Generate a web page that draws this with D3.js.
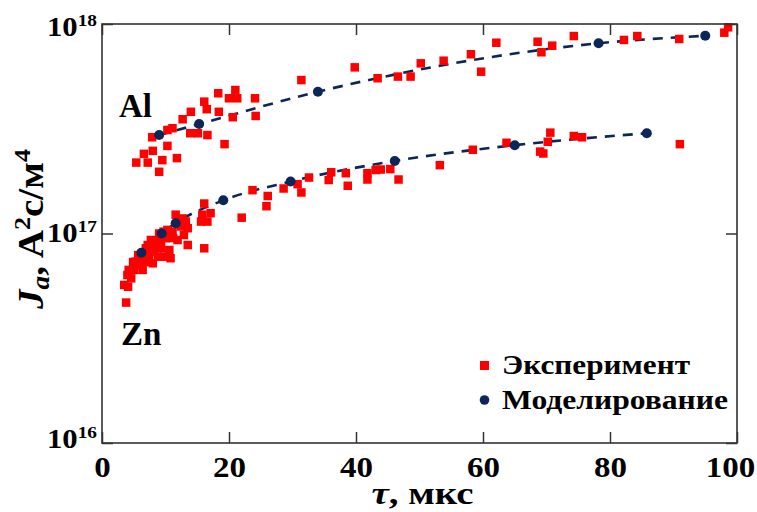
<!DOCTYPE html>
<html><head><meta charset="utf-8">
<script src="https://cdn.jsdelivr.net/npm/d3@7"></script>
<style>body{margin:0;background:#fff}svg{display:block}</style>
</head><body><svg id="c" width="757" height="512"></svg>
<script>
const xTicks=[0,20,40,60,80,100];
const yTicks=[1e16,1e17,1e18];
const yTickExp=["16","17","18"];
// Al experiment [tau, Ja]
const alExpTau=[5.4,7.2,6.6,8.0,9.0,9.5,10.3,11.8,7.9,10.3,11.1,12.7,14.0,13.9,15.1,16.6,16.1,16.5,18.3,18.4,19.3,20.6,20.0,21.0,21.3,24.1,24.2,31.4,39.8,43.4,46.6,48.6,50.2,53.8,58.1,59.7,62.1,68.6,69.2,70.9,74.3,82.2,84.3,90.9,98.0,98.6];
const alExpJ=[2.18e17,2.18e17,2.40e17,2.48e17,1.97e17,2.24e17,2.62e17,2.29e17,2.88e17,3.12e17,3.18e17,3.51e17,3.81e17,3.01e17,3.01e17,2.95e17,4.26e17,3.92e17,4.67e17,3.81e17,2.67e17,3.59e17,4.42e17,4.84e17,4.42e17,4.42e17,3.64e17,5.40e17,6.21e17,5.51e17,5.61e17,5.61e17,6.49e17,6.68e17,7.17e17,5.92e17,8.14e17,8.23e17,7.33e17,7.88e17,8.76e17,8.39e17,8.76e17,8.48e17,9.09e17,9.64e17];
// Zn experiment
const znExpTau=[3.8,3.5,4.1,4.0,4.6,5.1,5.3,5.9,6.4,6.7,6.9,7.4,8.0,8.2,8.5,8.8,9.3,9.8,9.0,10.1,10.6,10.8,10.3,11.1,11.6,11.9,12.4,12.7,13.2,13.5,13.5,16.1,15.8,16.6,17.1,16.1,15.6,4.2,4.9,5.7,6.1,7.2,7.7,8.2,9.3,9.7,11.2,12.1,12.9,6.9,8.8,
22.0,23.7,26.1,25.9,28.6,30.8,31.4,32.6,35.7,36.1,38.4,38.7,41.8,41.8,43.1,43.9,45.4,46.7,53.2,58.4,63.7,69.0,69.5,70.2,70.6,74.3,75.6,91.0];
const znExpJ=[4.68e16,5.68e16,5.57e16,6.34e16,6.11e16,6.70e16,7.33e16,7.08e16,6.70e16,7.62e16,8.50e16,7.89e16,7.21e16,8.19e16,9.14e16,7.75e16,8.50e16,7.75e16,1.00e17,9.49e16,8.34e16,7.62e16,1.04e17,1.02e17,1.23e17,9.31e16,1.08e17,1.18e17,1.14e17,1.06e17,8.81e16,1.39e17,1.23e17,1.14e17,1.25e17,8.50e16,1.14e17,6.70e16,7.31e16,7.89e16,7.64e16,8.81e16,9.31e16,8.81e16,9.31e16,1.02e17,9.52e16,1.14e17,9.84e16,7.31e16,8.53e16,
1.19e17,1.61e17,1.51e17,1.35e17,1.64e17,1.72e17,1.57e17,1.85e17,1.80e17,1.96e17,1.94e17,1.69e17,1.94e17,1.81e17,2.01e17,2.02e17,2.03e17,1.81e17,2.12e17,2.51e17,2.71e17,2.46e17,2.41e17,2.74e17,3.03e17,2.92e17,2.88e17,2.67e17];
// Modelling
const alModTau=[9.0,15.3,34.0,78.2,95.0];
const alModJ=[2.95e17,3.33e17,4.75e17,8.09e17,8.79e17];
const znModTau=[6.2,9.4,11.6,19.1,29.7,46.1,65.0,85.8];
const znModJ=[8.09e16,1.00e17,1.12e17,1.44e17,1.77e17,2.22e17,2.64e17,3.01e17];
const legendLabels=["Эксперимент","Моделирование"];

const svg=d3.select("#c");
const L=102,R=737,T=24,B=443;
const x=d3.scaleLinear().domain([0,100]).range([L,R]);
const y=d3.scaleLog().domain([1e16,1e18]).range([B,T]);
const RED="#ff0000",NAVY="#0c2658";
const serif=s=>s.style("font-family","'Liberation Serif'").style("font-weight","bold").attr("fill","#000");

const zip=(a,b)=>a.map((v,i)=>[v,b[i]]);
const line=d3.line().x(d=>x(d[0])).y(d=>y(d[1])).curve(d3.curveMonotoneX);

// dashed curves
[zip(alModTau,alModJ),zip(znModTau,znModJ)].forEach(p=>{
  svg.append("path").attr("d",line(p)).attr("fill","none").attr("stroke",NAVY)
    .attr("stroke-width",2.6).attr("stroke-dasharray","10,8");
});
// experiment squares
const sq=8.5;
svg.append("g").selectAll("rect").data(zip(alExpTau,alExpJ).concat(zip(znExpTau,znExpJ))).join("rect")
  .attr("x",d=>x(d[0])-sq/2).attr("y",d=>y(d[1])-sq/2).attr("width",sq).attr("height",sq).attr("fill",RED);
// model circles
svg.append("g").selectAll("circle").data(zip(alModTau,alModJ).concat(zip(znModTau,znModJ))).join("circle")
  .attr("cx",d=>x(d[0])).attr("cy",d=>y(d[1])).attr("r",5).attr("fill",NAVY);

// frame
svg.append("rect").attr("x",L).attr("y",T).attr("width",R-L).attr("height",B-T)
  .attr("fill","none").attr("stroke","#333").attr("stroke-width",1.6);

// axes
const xb=svg.append("g").attr("transform",`translate(0,${B})`)
  .call(d3.axisBottom(x).tickValues(xTicks).tickSizeInner(-11).tickSizeOuter(0).tickPadding(14));
const xt=svg.append("g").attr("transform",`translate(0,${T})`)
  .call(d3.axisTop(x).tickValues(xTicks).tickSizeInner(-11).tickSizeOuter(0).tickFormat(""));
const yl=svg.append("g").attr("transform",`translate(${L},0)`)
  .call(d3.axisLeft(y).tickValues(yTicks).tickSizeInner(-11).tickSizeOuter(0).tickFormat(""));
const yr=svg.append("g").attr("transform",`translate(${R},0)`)
  .call(d3.axisRight(y).tickValues(yTicks).tickSizeInner(-11).tickSizeOuter(0).tickFormat(""));
[xb,xt,yl,yr].forEach(g=>{g.attr("font-family",null).attr("font-size",null);g.select(".domain").remove();g.selectAll("line").attr("stroke","#333").attr("stroke-width",1.5);});
xb.selectAll("text").call(serif).attr("font-size",29).attr("dy","0.7em")
  .attr("textLength",function(){return this.textContent.length*16.5;}).attr("lengthAdjust","spacingAndGlyphs")
  .attr("x",d=>d===100?-7:0);

// y tick labels 10^n
yTicks.forEach((v,i)=>{
  const py=y(v);
  const t=svg.append("text").attr("x",97).attr("y",py+12-(py-T)/(B-T)*7).attr("text-anchor","end").call(serif)
    .attr("textLength",50).attr("lengthAdjust","spacingAndGlyphs");
  t.append("tspan").attr("font-size",27).text("10");
  t.append("tspan").attr("font-size",17).attr("dy",-10).text(yTickExp[i]);
});

// axis titles
const xl=svg.append("text").attr("x",(L+R)/2+3).attr("y",504).attr("text-anchor","middle").attr("font-size",32).call(serif)
  .attr("textLength",102).attr("lengthAdjust","spacingAndGlyphs");
xl.append("tspan").style("font-style","italic").text("τ");
xl.append("tspan").text(", мкс");

const ylab=svg.append("text").attr("transform",`translate(43,229) rotate(-90)`).attr("text-anchor","middle").attr("font-size",36).call(serif)
  .attr("textLength",160).attr("lengthAdjust","spacingAndGlyphs");
ylab.append("tspan").style("font-style","italic").text("J");
ylab.append("tspan").style("font-style","italic").attr("font-size",25).attr("dy",6).text("a");
ylab.append("tspan").attr("dy",-6).text(", A");
ylab.append("tspan").attr("font-size",24).attr("dy",-13).text("2");
ylab.append("tspan").attr("dy",13).text("с/м");
ylab.append("tspan").attr("font-size",24).attr("dy",-13).text("4");

// annotations
svg.append("text").attr("x",119).attr("y",117).attr("font-size",33).call(serif).text("Al");
svg.append("text").attr("x",121).attr("y",345).attr("font-size",33).call(serif).text("Zn");

// legend
svg.append("rect").attr("x",480).attr("y",361).attr("width",9).attr("height",9).attr("fill",RED);
svg.append("circle").attr("cx",484.5).attr("cy",400).attr("r",4.8).attr("fill",NAVY);
svg.append("text").attr("x",502).attr("y",374).attr("font-size",28).call(serif)
  .attr("textLength",188).attr("lengthAdjust","spacingAndGlyphs").text(legendLabels[0]);
svg.append("text").attr("x",502).attr("y",409).attr("font-size",28).call(serif)
  .attr("textLength",226).attr("lengthAdjust","spacingAndGlyphs").text(legendLabels[1]);
</script></body></html>
